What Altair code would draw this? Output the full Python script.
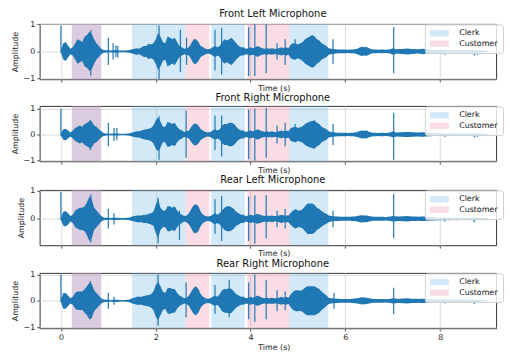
import altair as alt
import pandas as pd

T_STEP = 0.05  # envelope sample spacing (s)

# ---- speaker regions (seconds) ----
region_speaker = ["Clerk", "Clerk", "Clerk", "Clerk", "Customer", "Customer", "Customer"]
region_start = [0.23, 1.50, 3.17, 4.82, 0.23, 2.63, 3.93]
region_end = [0.85, 2.63, 3.88, 5.64, 0.85, 3.13, 4.82]

# ---- waveform envelopes (amplitude, every 0.05 s from 0 to 9 s) ----
env_front_left = [
    0.04, 0.30, 0.35, 0.22, 0.10, 0.15, 0.30, 0.45, 0.40, 0.35, 0.55, 0.60, 0.72, 0.65, 0.45, 0.30, 0.20, 0.10, 0.05, 0.04,
    0.04, 0.03, 0.04, 0.05, 0.04, 0.03, 0.03, 0.03, 0.04, 0.05, 0.08, 0.10, 0.12, 0.10, 0.15, 0.20, 0.20, 0.28, 0.25, 0.30,
    0.45, 0.68, 0.55, 0.35, 0.30, 0.55, 0.50, 0.45, 0.50, 0.35, 0.20, 0.15, 0.10, 0.12, 0.15, 0.30, 0.45, 0.45, 0.35, 0.20,
    0.15, 0.10, 0.08, 0.10, 0.15, 0.20, 0.15, 0.20, 0.35, 0.45, 0.40, 0.45, 0.50, 0.40, 0.30, 0.20, 0.15, 0.15, 0.10, 0.12,
    0.15, 0.12, 0.15, 0.20, 0.15, 0.12, 0.10, 0.12, 0.10, 0.12, 0.10, 0.10, 0.12, 0.15, 0.12, 0.15, 0.12, 0.25, 0.30, 0.30,
    0.25, 0.30, 0.35, 0.45, 0.50, 0.55, 0.60, 0.55, 0.45, 0.40, 0.30, 0.25, 0.20, 0.12, 0.10, 0.09, 0.08, 0.07, 0.07, 0.07,
    0.07, 0.06, 0.07, 0.07, 0.08, 0.10, 0.14, 0.17, 0.15, 0.16, 0.12, 0.08, 0.07, 0.07, 0.06, 0.07, 0.07, 0.06, 0.07, 0.08,
    0.12, 0.09, 0.08, 0.09, 0.09, 0.10, 0.11, 0.10, 0.09, 0.09, 0.08, 0.08, 0.09, 0.10, 0.08, 0.07, 0.07, 0.06, 0.06, 0.05,
    0.05, 0.05, 0.05, 0.04, 0.05, 0.04, 0.04, 0.05, 0.04, 0.04, 0.04, 0.04, 0.04, 0.04, 0.05, 0.04, 0.04, 0.04, 0.03, 0.03,
    0.02,
]
env_front_right = [
    0.04, 0.20, 0.22, 0.15, 0.08, 0.15, 0.25, 0.30, 0.35, 0.30, 0.40, 0.45, 0.52, 0.50, 0.35, 0.30, 0.20, 0.12, 0.06, 0.04,
    0.04, 0.03, 0.04, 0.04, 0.04, 0.03, 0.03, 0.03, 0.04, 0.05, 0.08, 0.10, 0.12, 0.12, 0.15, 0.18, 0.20, 0.22, 0.25, 0.35,
    0.55, 0.65, 0.50, 0.30, 0.30, 0.48, 0.45, 0.40, 0.45, 0.30, 0.20, 0.15, 0.10, 0.12, 0.15, 0.30, 0.40, 0.42, 0.35, 0.20,
    0.15, 0.10, 0.08, 0.10, 0.15, 0.20, 0.15, 0.20, 0.35, 0.40, 0.40, 0.45, 0.45, 0.40, 0.30, 0.20, 0.15, 0.15, 0.10, 0.12,
    0.15, 0.12, 0.15, 0.20, 0.15, 0.12, 0.10, 0.12, 0.10, 0.12, 0.10, 0.10, 0.12, 0.15, 0.12, 0.15, 0.12, 0.25, 0.28, 0.30,
    0.25, 0.28, 0.32, 0.40, 0.45, 0.50, 0.52, 0.55, 0.45, 0.40, 0.30, 0.25, 0.20, 0.12, 0.10, 0.09, 0.08, 0.07, 0.07, 0.07,
    0.07, 0.06, 0.07, 0.07, 0.08, 0.10, 0.13, 0.15, 0.14, 0.15, 0.11, 0.08, 0.07, 0.07, 0.06, 0.07, 0.07, 0.06, 0.07, 0.08,
    0.12, 0.09, 0.08, 0.09, 0.09, 0.10, 0.10, 0.10, 0.09, 0.09, 0.08, 0.08, 0.09, 0.09, 0.08, 0.07, 0.07, 0.06, 0.06, 0.05,
    0.05, 0.05, 0.04, 0.04, 0.05, 0.04, 0.04, 0.05, 0.04, 0.04, 0.04, 0.04, 0.04, 0.04, 0.05, 0.04, 0.04, 0.04, 0.03, 0.03,
    0.02,
]
env_rear_left = [
    0.04, 0.25, 0.28, 0.20, 0.10, 0.15, 0.30, 0.35, 0.40, 0.40, 0.45, 0.60, 0.80, 0.70, 0.40, 0.30, 0.20, 0.10, 0.05, 0.04,
    0.04, 0.03, 0.04, 0.04, 0.04, 0.03, 0.03, 0.03, 0.04, 0.05, 0.08, 0.10, 0.12, 0.12, 0.12, 0.15, 0.15, 0.18, 0.20, 0.25,
    0.50, 0.70, 0.40, 0.30, 0.30, 0.45, 0.45, 0.40, 0.45, 0.30, 0.20, 0.15, 0.10, 0.12, 0.20, 0.35, 0.50, 0.52, 0.45, 0.25,
    0.15, 0.10, 0.08, 0.10, 0.15, 0.20, 0.15, 0.20, 0.30, 0.40, 0.45, 0.45, 0.42, 0.35, 0.25, 0.20, 0.15, 0.15, 0.10, 0.12,
    0.15, 0.12, 0.15, 0.18, 0.15, 0.12, 0.10, 0.12, 0.10, 0.12, 0.10, 0.10, 0.12, 0.15, 0.12, 0.12, 0.12, 0.22, 0.30, 0.35,
    0.30, 0.30, 0.35, 0.45, 0.55, 0.55, 0.55, 0.50, 0.40, 0.35, 0.28, 0.22, 0.18, 0.12, 0.10, 0.09, 0.08, 0.08, 0.07, 0.07,
    0.07, 0.07, 0.07, 0.08, 0.08, 0.10, 0.12, 0.13, 0.12, 0.12, 0.10, 0.08, 0.07, 0.07, 0.07, 0.07, 0.07, 0.06, 0.07, 0.08,
    0.10, 0.09, 0.08, 0.08, 0.09, 0.09, 0.10, 0.09, 0.08, 0.08, 0.08, 0.07, 0.08, 0.08, 0.07, 0.07, 0.06, 0.06, 0.06, 0.05,
    0.05, 0.05, 0.05, 0.04, 0.05, 0.04, 0.04, 0.05, 0.04, 0.04, 0.04, 0.04, 0.04, 0.04, 0.05, 0.04, 0.04, 0.04, 0.03, 0.03,
    0.02,
]
env_rear_right = [
    0.04, 0.30, 0.30, 0.20, 0.10, 0.15, 0.30, 0.35, 0.35, 0.35, 0.45, 0.55, 0.70, 0.65, 0.40, 0.30, 0.20, 0.10, 0.05, 0.04,
    0.04, 0.03, 0.04, 0.04, 0.04, 0.03, 0.03, 0.03, 0.04, 0.05, 0.10, 0.12, 0.15, 0.15, 0.15, 0.18, 0.20, 0.22, 0.25, 0.35,
    0.60, 0.72, 0.55, 0.35, 0.30, 0.48, 0.50, 0.45, 0.45, 0.30, 0.20, 0.15, 0.10, 0.12, 0.20, 0.35, 0.50, 0.55, 0.45, 0.25,
    0.15, 0.10, 0.08, 0.10, 0.15, 0.20, 0.15, 0.25, 0.40, 0.45, 0.45, 0.48, 0.45, 0.35, 0.25, 0.20, 0.15, 0.15, 0.10, 0.12,
    0.15, 0.12, 0.15, 0.20, 0.15, 0.12, 0.10, 0.12, 0.10, 0.12, 0.10, 0.10, 0.12, 0.15, 0.12, 0.15, 0.12, 0.25, 0.35, 0.40,
    0.40, 0.38, 0.42, 0.50, 0.55, 0.55, 0.55, 0.55, 0.50, 0.45, 0.35, 0.28, 0.20, 0.12, 0.10, 0.09, 0.08, 0.08, 0.07, 0.07,
    0.07, 0.07, 0.07, 0.08, 0.09, 0.10, 0.12, 0.14, 0.13, 0.12, 0.10, 0.08, 0.07, 0.07, 0.07, 0.07, 0.07, 0.06, 0.07, 0.08,
    0.10, 0.09, 0.08, 0.08, 0.09, 0.09, 0.10, 0.09, 0.08, 0.08, 0.08, 0.07, 0.08, 0.08, 0.07, 0.07, 0.06, 0.06, 0.06, 0.05,
    0.05, 0.05, 0.05, 0.04, 0.05, 0.04, 0.04, 0.05, 0.04, 0.04, 0.04, 0.04, 0.04, 0.04, 0.05, 0.04, 0.04, 0.04, 0.03, 0.03,
    0.02,
]

# ---- sharp transients: (time s, top, bottom) ----
spikes_front_left = [
    (0.00, 0.95, -0.05), (0.63, 0.78, -0.88), (1.00, 0.50, -0.50), (1.10, 0.30, -0.30),
    (1.16, 0.22, -0.20), (1.20, 0.20, -0.22), (2.07, 0.95, -1.00), (2.52, 0.80, -0.75),
    (2.65, 0.50, -0.50), (3.25, 0.80, -0.70), (3.39, 0.87, -0.85), (3.96, 0.90, -0.90),
    (4.09, 1.00, -0.90), (4.33, 1.00, -0.80), (4.56, 0.30, -0.30), (4.73, 0.45, -0.50),
    (4.94, 0.45, -0.30), (5.74, 0.45, -0.45), (7.02, 0.90, -0.80), (8.10, 0.02, -0.12),
    (8.72, 0.02, -0.15), (8.78, 0.02, -0.12),
]
spikes_front_right = [
    (0.00, 0.99, -0.05), (0.62, 0.57, -0.60), (1.00, 0.45, -0.45), (1.12, 0.25, -0.25),
    (1.18, 0.25, -0.22), (2.07, 0.70, -0.97), (2.64, 0.92, -0.90), (3.25, 0.73, -0.60),
    (3.39, 0.73, -0.85), (3.96, 0.95, -0.95), (4.09, 1.00, -1.00), (4.33, 1.02, -0.90),
    (4.56, 0.35, -0.35), (4.73, 0.45, -0.45), (4.94, 0.40, -0.30), (5.74, 0.40, -0.40),
    (7.02, 0.83, -0.97), (8.10, 0.02, -0.10), (8.72, 0.02, -0.12), (8.78, 0.02, -0.10),
]
spikes_rear_left = [
    (0.00, 0.96, -0.05), (0.63, 0.88, -0.85), (1.00, 0.35, -0.35), (1.12, 0.20, -0.20),
    (2.05, 0.76, -0.88), (2.50, 0.30, -0.76), (3.25, 0.70, -0.55), (3.39, 0.82, -0.80),
    (3.96, 0.80, -0.80), (4.09, 0.85, -0.90), (4.33, 0.85, -0.70), (4.56, 0.30, -0.30),
    (4.73, 0.35, -0.35), (5.74, 0.30, -0.30), (7.02, 0.90, -0.70), (8.10, 0.02, -0.10),
    (8.72, 0.02, -0.12),
]
spikes_rear_right = [
    (0.00, 1.00, -0.05), (0.62, 0.75, -0.70), (1.00, 0.30, -0.30), (1.12, 0.15, -0.15),
    (2.05, 1.00, -0.95), (2.64, 0.70, -0.62), (3.25, 0.60, -0.50), (3.55, 0.80, -0.62),
    (3.96, 0.70, -0.70), (4.09, 1.00, -0.80), (4.33, 0.80, -0.70), (4.56, 0.40, -0.40),
    (4.73, 0.35, -0.35), (5.76, 0.30, -0.30), (7.02, 0.50, -0.50), (8.10, 0.02, -0.10),
    (8.72, 0.02, -0.12),
]

panel_titles = ["Front Left Microphone", "Front Right Microphone", "Rear Left Microphone", "Rear Right Microphone"]
y_domains = [[-1.02, 1.01], [-1.03, 1.10], [-0.95, 1.04], [-1.04, 1.06]]
y_ticks = [[-1.0, 0.0, 1.0], [-1.0, 0.0, 1.0], [0.0, 1.0], [-1.0, 0.0, 1.0]]
x_ticks = [0, 2, 4, 6, 8]

FONT = "DejaVu Sans"
WAVE = "#1f77b4"
W, H = 462, 56

regions_df = pd.DataFrame({"speaker": region_speaker, "start": region_start, "end": region_end})


def panel(title, env, spikes, ydom, yvals, last):
    wave_df = pd.DataFrame({
        "t": [round(i * T_STEP, 3) for i in range(len(env))],
        "hi": env,
        "lo": [-v for v in env],
    })
    spike_df = pd.DataFrame(spikes, columns=["t", "up", "down"])
    xs = alt.Scale(domain=[-0.45, 9.18], nice=False, zero=False)
    xa = alt.Axis(values=x_ticks, title="Time (s)", labels=last, format="d",
                  titlePadding=3 if last else 1.5, grid=True, titleX=237, titleAlign="center")
    ys = alt.Scale(domain=ydom, nice=False, zero=False)
    ya = alt.Axis(values=yvals, title="Amplitude", titlePadding=4,
                  labelExpr="datum.value < 0 ? '\u2212' + format(-datum.value, 'd') : format(datum.value, 'd')",
                  grid=True, labelOverlap=False, labelBound=False, labelFlush=False,
                  labelSeparation=0)

    reg = alt.Chart(regions_df).mark_rect(opacity=0.3).encode(
        x=alt.X("start:Q", scale=xs, axis=xa),
        x2="end:Q",
        color=alt.Color(
            "speaker:N",
            scale=alt.Scale(domain=["Clerk", "Customer"], range=["#6cb6e8", "#ee8ea5"]),
            legend=alt.Legend(
                title=None, orient="none", legendX=390, legendY=0.5,
                symbolType="M-2.4,-0.8H2.4V0.8H-2.4Z", symbolSize=64,
                symbolOpacity=0.3, symbolStrokeWidth=0, symbolOffset=5.6,
                labelOffset=16, labelFontSize=8, labelFont=FONT, labelColor="#111",
                rowPadding=2.5, padding=5, fillColor="rgba(255,255,255,0.8)",
                strokeColor="#d0d0d0", cornerRadius=2,
            ),
        ),
    )
    area = alt.Chart(wave_df).mark_area(color=WAVE, opacity=1, clip=True).encode(
        x=alt.X("t:Q", scale=xs, axis=xa),
        y=alt.Y("hi:Q", scale=ys, axis=ya),
        y2="lo:Q",
    )
    rule = alt.Chart(spike_df).mark_rule(color=WAVE, strokeWidth=1.2, clip=True).encode(
        x=alt.X("t:Q", scale=xs, axis=xa),
        y=alt.Y("up:Q", scale=ys, axis=ya),
        y2="down:Q",
    )
    return alt.layer(reg, area, rule).properties(
        width=W, height=H, title=alt.TitleParams(title, dx=5)
    )


panels = [
    panel(panel_titles[0], env_front_left, spikes_front_left, y_domains[0], y_ticks[0], False),
    panel(panel_titles[1], env_front_right, spikes_front_right, y_domains[1], y_ticks[1], False),
    panel(panel_titles[2], env_rear_left, spikes_rear_left, y_domains[2], y_ticks[2], False),
    panel(panel_titles[3], env_rear_right, spikes_rear_right, y_domains[3], y_ticks[3], True),
]

chart = (
    alt.vconcat(*panels, spacing=-1)
    .resolve_scale(y="independent", color="independent")
    .resolve_legend(color="independent")
    .properties(padding={"left": 2, "top": -2, "right": 0, "bottom": 0})
    .configure(font=FONT)
    .configure_view(stroke="#333333", strokeWidth=1)
    .configure_axis(
        domain=False, tickColor="#333333", tickWidth=0.8, tickSize=3,
        labelFontSize=8, labelColor="#222222", labelPadding=2, labelFont=FONT,
        titleFontSize=8, titleFontWeight="normal", titleColor="#222222", titleFont=FONT,
        gridColor="#d0d0d0", gridWidth=0.8,
    )
    .configure_axisY(labelOverlap=False)
    .configure_title(fontSize=10, fontWeight="normal", color="#111111", font=FONT, offset=1.7)
)

chart.save("out.html", embed_options={"renderer": "svg", "actions": False})
